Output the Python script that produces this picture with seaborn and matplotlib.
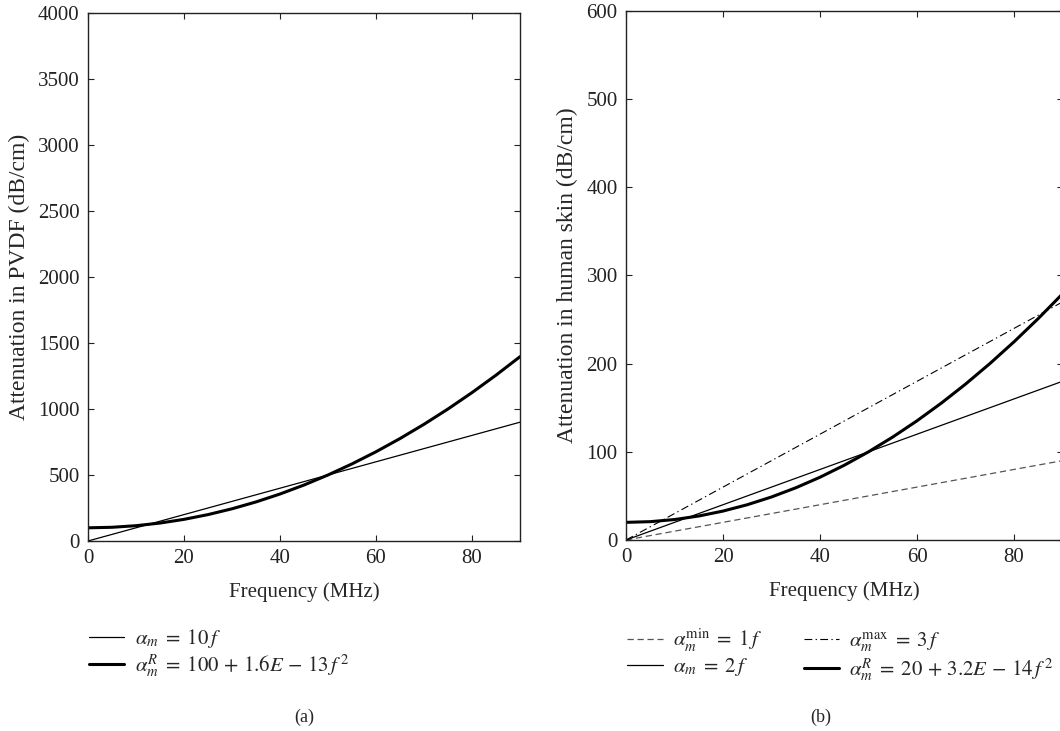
import pandas as pd
import seaborn as sns
import matplotlib.pyplot as plt

# frequency samples (MHz)
freq = [0, 5, 10, 15, 20, 25, 30, 35, 40, 45, 50, 55, 60, 65, 70, 75, 80, 85, 90]

# panel (a): PVDF
pvdf_linear = [0, 50, 100, 150, 200, 250, 300, 350, 400, 450, 500, 550, 600, 650, 700, 750, 800, 850, 900]
pvdf_quad = [100, 104, 116, 136, 164, 200, 244, 296, 356, 424, 500, 584, 676, 776, 884, 1000, 1124, 1256, 1396]

# panel (b): human skin
skin_min = [0, 5, 10, 15, 20, 25, 30, 35, 40, 45, 50, 55, 60, 65, 70, 75, 80, 85, 90]
skin_mid = [0, 10, 20, 30, 40, 50, 60, 70, 80, 90, 100, 110, 120, 130, 140, 150, 160, 170, 180]
skin_max = [0, 15, 30, 45, 60, 75, 90, 105, 120, 135, 150, 165, 180, 195, 210, 225, 240, 255, 270]
skin_quad = [20, 20.8, 23.2, 27.2, 32.8, 40, 48.8, 59.2, 71.2, 84.8, 100, 116.8, 135.2, 155.2, 176.8, 200, 224.8, 251.2, 279.2]

x_ticks = [0, 20, 40, 60, 80]
pvdf_yticks = [0, 500, 1000, 1500, 2000, 2500, 3000, 3500, 4000]
skin_yticks = [0, 100, 200, 300, 400, 500, 600]

sns.set_style("ticks")
plt.rcParams['font.family'] = ['Liberation Serif', 'DejaVu Serif']
plt.rcParams['mathtext.fontset'] = 'stix'
plt.rcParams['axes.edgecolor'] = '#222222'
plt.rcParams['axes.linewidth'] = 1.0

fig = plt.figure(figsize=(10.6, 7.31), dpi=100)
ax_a = fig.add_axes([0.083, 0.2599, 0.4075, 0.7223])
ax_b = fig.add_axes([0.5906, 0.2613, 0.4118, 0.7237])

df_a = pd.DataFrame({'f': freq, 'lin': pvdf_linear, 'quad': pvdf_quad})
df_b = pd.DataFrame({'f': freq, 'min': skin_min, 'mid': skin_mid, 'max': skin_max, 'quad': skin_quad})

# panel (a)
sns.lineplot(data=df_a, x='f', y='lin', ax=ax_a, color='black', lw=0.9,
             label=r'$\alpha_m \;=\; 10\,f$')
sns.lineplot(data=df_a, x='f', y='quad', ax=ax_a, color='black', lw=2.2,
             label=r'$\alpha_m^R \;=\; 100 \,+\, 1.6E \,-\, 13\,f^{\,2}$')
ax_a.set_ylim(0, 4000)
ax_a.set_yticks(pvdf_yticks)
ax_a.set_ylabel('Attenuation in PVDF (dB/cm)', fontsize=17, labelpad=6)

# panel (b)
sns.lineplot(data=df_b, x='f', y='min', ax=ax_b, color='#555555', lw=0.9,
             linestyle=(0, (5, 3)), label=r'$\alpha_m^{\mathrm{min}} \;=\; 1\,f$')
sns.lineplot(data=df_b, x='f', y='mid', ax=ax_b, color='black', lw=0.9,
             label=r'$\alpha_m \;=\; 2\,f$')
sns.lineplot(data=df_b, x='f', y='max', ax=ax_b, color='black', lw=0.8,
             linestyle=(0, (7, 3, 1.2, 3)), label=r'$\alpha_m^{\mathrm{max}} \;=\; 3\,f$')
sns.lineplot(data=df_b, x='f', y='quad', ax=ax_b, color='black', lw=2.2,
             label=r'$\alpha_m^R \;=\; 20 \,+\, 3.2E \,-\, 14\,f^{\,2}$')
ax_b.set_ylim(0, 600)
ax_b.set_yticks(skin_yticks)
ax_b.set_ylabel('Attenuation in human skin (dB/cm)', fontsize=17, labelpad=6)

for ax in (ax_a, ax_b):
    ax.set_xlim(0, 90)
    ax.set_xticks(x_ticks)
    ax.set_xlabel('Frequency (MHz)', fontsize=15, labelpad=10)
    ax.tick_params(direction='in', top=True, right=True, length=4.5, width=0.8,
                   labelsize=15, colors='#222222')
    ax.tick_params(axis='x', pad=6)
    ax.tick_params(axis='y', pad=6)
    for s in ax.spines.values():
        s.set_visible(True)
    ax.get_legend().remove()

# legends under the axes
h, l = ax_a.get_legend_handles_labels()
fig.legend(h, l, loc='upper left', bbox_to_anchor=(0.068, 0.165), frameon=False,
           fontsize=15, handlelength=1.7, handletextpad=0.5, labelspacing=0.1,
           borderpad=0.3)

h, l = ax_b.get_legend_handles_labels()
fig.legend(h, l, loc='upper left', bbox_to_anchor=(0.576, 0.165), ncol=2,
           frameon=False, fontsize=15, handlelength=1.7, handletextpad=0.5,
           labelspacing=0.1, columnspacing=2.0, borderpad=0.3)

fig.text(0.287, 0.019, '(a)', ha='center', va='center', fontsize=13)
fig.text(0.774, 0.019, '(b)', ha='center', va='center', fontsize=13)

fig.savefig('out.png', dpi=100)
